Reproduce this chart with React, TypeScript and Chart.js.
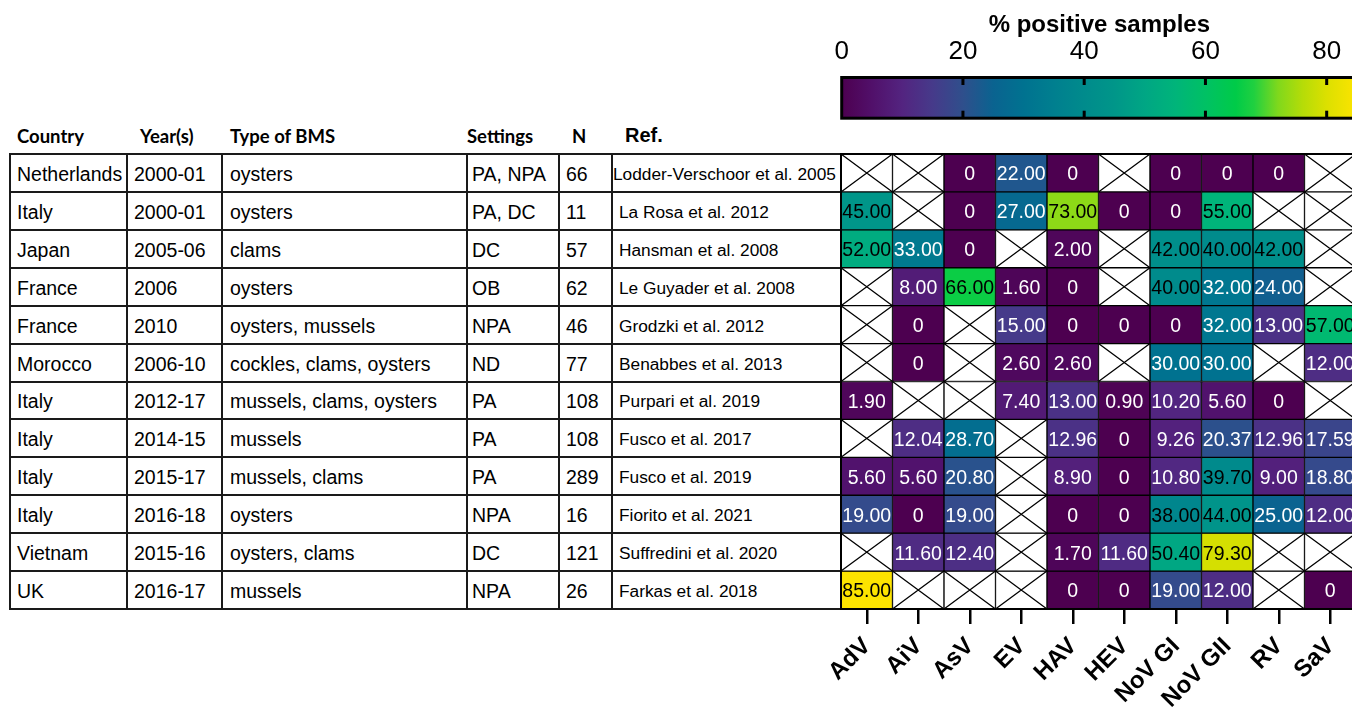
import React, { useEffect, useRef } from 'react';
import { Chart, registerables } from 'chart.js';

Chart.register(...registerables);

// ---------------- data ----------------
const viruses = ['AdV', 'AiV', 'AsV', 'EV', 'HAV', 'HEV', 'NoV GI', 'NoV GII', 'RV', 'SaV'];

const headers = ['Country', 'Year(s)', 'Type of BMS', 'Settings', 'N', 'Ref.'];
const countries = ['Netherlands', 'Italy', 'Japan', 'France', 'France', 'Morocco', 'Italy', 'Italy', 'Italy', 'Italy', 'Vietnam', 'UK'];
const years = ['2000-01', '2000-01', '2005-06', '2006', '2010', '2006-10', '2012-17', '2014-15', '2015-17', '2016-18', '2015-16', '2016-17'];
const bmsTypes = ['oysters', 'oysters', 'clams', 'oysters', 'oysters, mussels', 'cockles, clams, oysters', 'mussels, clams, oysters', 'mussels', 'mussels, clams', 'oysters', 'oysters, clams', 'mussels'];
const settings = ['PA, NPA', 'PA, DC', 'DC', 'OB', 'NPA', 'ND', 'PA', 'PA', 'PA', 'NPA', 'DC', 'NPA'];
const sampleSizes = ['66', '11', '57', '62', '46', '77', '108', '108', '289', '16', '121', '26'];
const references = ['Lodder-Verschoor et al. 2005', 'La Rosa et al. 2012', 'Hansman et al. 2008', 'Le Guyader et al. 2008', 'Grodzki et al. 2012', 'Benabbes et al. 2013', 'Purpari et al. 2019', 'Fusco et al. 2017', 'Fusco et al. 2019', 'Fiorito et al. 2021', 'Suffredini et al. 2020', 'Farkas et al. 2018'];

// % positive samples per virus (null = not tested, drawn as a crossed cell)
const X = null;
const rowNetherlands2005 = [X, X, 0, 22.0, 0, X, 0, 0, 0, X];
const rowItaly2012 = [45.0, X, 0, 27.0, 73.0, 0, 0, 55.0, X, X];
const rowJapan2008 = [52.0, 33.0, 0, X, 2.0, X, 42.0, 40.0, 42.0, X];
const rowFrance2008 = [X, 8.0, 66.0, 1.6, 0, X, 40.0, 32.0, 24.0, X];
const rowFrance2012 = [X, 0, X, 15.0, 0, 0, 0, 32.0, 13.0, 57.0];
const rowMorocco2013 = [X, 0, X, 2.6, 2.6, X, 30.0, 30.0, X, 12.0];
const rowItaly2019a = [1.9, X, X, 7.4, 13.0, 0.9, 10.2, 5.6, 0, X];
const rowItaly2017 = [X, 12.04, 28.7, X, 12.96, 0, 9.26, 20.37, 12.96, 17.59];
const rowItaly2019b = [5.6, 5.6, 20.8, X, 8.9, 0, 10.8, 39.7, 9.0, 18.8];
const rowItaly2021 = [19.0, 0, 19.0, X, 0, 0, 38.0, 44.0, 25.0, 12.0];
const rowVietnam2020 = [X, 11.6, 12.4, X, 1.7, 11.6, 50.4, 79.3, X, X];
const rowUK2018 = [85.0, X, X, X, 0, 0, 19.0, 12.0, X, 0];

const valueRows: (number | null)[][] = [
  rowNetherlands2005, rowItaly2012, rowJapan2008, rowFrance2008, rowFrance2012, rowMorocco2013,
  rowItaly2019a, rowItaly2017, rowItaly2019b, rowItaly2021, rowVietnam2020, rowUK2018,
];

const colorbarTicks = [0, 20, 40, 60, 80];
const colorbarMax = 85;

// ---------------- styling ----------------
const colorStops: [number, string][] = [
  [0, '#4d0050'], [5, '#51106a'], [10, '#532480'], [15, '#463a8a'], [20, '#2f4f8c'],
  [25, '#0a6390'], [30, '#007290'], [35, '#007f8f'], [40, '#008b8c'], [45, '#009689'],
  [50, '#00a684'], [55, '#00b47a'], [60, '#00c164'], [65, '#00cb48'], [68, '#20d040'],
  [72, '#80d81c'], [76, '#b5dc08'], [80, '#dce000'], [85, '#fde400'],
];

function hexToRgb(h: string) {
  const n = parseInt(h.slice(1), 16);
  return [(n >> 16) & 255, (n >> 8) & 255, n & 255];
}
function colorFor(v: number) {
  for (let i = 1; i < colorStops.length; i++) {
    const [v1, c1] = colorStops[i];
    const [v0, c0] = colorStops[i - 1];
    if (v <= v1) {
      const t = (v - v0) / (v1 - v0);
      const a = hexToRgb(c0), b = hexToRgb(c1);
      const m = a.map((x, k) => Math.round(x + (b[k] - x) * t));
      return `rgb(${m[0]},${m[1]},${m[2]})`;
    }
  }
  return colorStops[colorStops.length - 1][1];
}
const fmt = (v: number) => (v === 0 ? '0' : v.toFixed(2));

const ARIAL = '"Liberation Sans", Arial, Helvetica, sans-serif';
const ROW_TOP = 154;
const ROW_BOTTOM = 609;
const NROWS = valueRows.length;
const ROW_H = (ROW_BOTTOM - ROW_TOP) / NROWS;
const colEdges = [10, 127, 222, 467, 559, 612, 841];
const colPad = [7, 7, 8, 5, 7, 7];
const headerX = [17, 140, 230, 467, 572, 625];

const heatmapPlugin = {
  id: 'heatCells',
  afterDatasetsDraw(chart: any) {
    const ctx = chart.ctx;
    ctx.save();
    valueRows.forEach((row, r) => {
      const meta = chart.getDatasetMeta(r);
      meta.data.forEach((bar: any, c: number) => {
        const p = bar.getProps(['x', 'y', 'base', 'width'], true);
        const left = p.x - p.width / 2;
        const right = p.x + p.width / 2;
        const top = Math.min(p.y, p.base);
        const bottom = Math.max(p.y, p.base);
        const v = row[c];
        if (v === null) {
          ctx.strokeStyle = '#000';
          ctx.lineWidth = 1.3;
          ctx.beginPath();
          ctx.moveTo(left, top);
          ctx.lineTo(right, bottom);
          ctx.moveTo(left, bottom);
          ctx.lineTo(right, top);
          ctx.stroke();
        } else {
          ctx.fillStyle = v >= 35 ? '#000' : '#fff';
          ctx.font = `19.5px ${ARIAL}`;
          ctx.textAlign = 'center';
          ctx.textBaseline = 'middle';
          ctx.fillText(fmt(v), p.x, (top + bottom) / 2 + 2);
        }
      });
    });
    const a = chart.chartArea;
    ctx.strokeStyle = '#000';
    ctx.lineWidth = 2;
    ctx.strokeRect(a.left, a.top, a.right - a.left, a.bottom - a.top);

    // rotated category labels, placed from the category scale's tick pixels
    const sx = chart.scales.x;
    ctx.fillStyle = '#000';
    ctx.font = `bold 24px ${ARIAL}`;
    ctx.textAlign = 'right';
    ctx.textBaseline = 'alphabetic';
    sx.ticks.forEach((_: any, i: number) => {
      const x = sx.getPixelForTick(i) + 5;
      const y = a.bottom + 38;
      ctx.save();
      ctx.translate(x, y);
      ctx.rotate(-Math.PI / 4);
      ctx.fillText(String(sx.getLabelForValue(i)), 0, 0);
      ctx.restore();
    });
    ctx.restore();
  },
};

const colorbarPlugin = {
  id: 'colorbarFrame',
  afterDatasetsDraw(chart: any) {
    const ctx = chart.ctx;
    const a = chart.chartArea;
    const sx = chart.scales.x;
    ctx.save();
    ctx.fillStyle = '#000';
    colorbarTicks.slice(1).forEach((t) => {
      const x = sx.getPixelForValue(t);
      ctx.fillRect(x - 1.5, a.top, 3, 7.5);
      ctx.fillRect(x - 1.5, a.bottom - 7.5, 3, 7.5);
    });
    ctx.strokeStyle = '#000';
    ctx.lineWidth = 3;
    ctx.strokeRect(a.left, a.top, a.right - a.left, a.bottom - a.top);
    ctx.restore();
  },
};

export default function App() {
  const heatRef = useRef<HTMLCanvasElement>(null);
  const barRef = useRef<HTMLCanvasElement>(null);

  useEffect(() => {
    const heat = new Chart(heatRef.current as HTMLCanvasElement, {
      type: 'bar',
      data: {
        labels: viruses,
        datasets: valueRows.map((row, r) => ({
          label: countries[r],
          data: viruses.map(() => [r, r + 1]) as any,
          backgroundColor: row.map((v) => (v === null ? '#ffffff' : colorFor(v))),
          borderColor: '#000',
          borderWidth: 1,
          borderSkipped: false,
          barPercentage: 1,
          categoryPercentage: 1,
          grouped: false,
        })),
      },
      options: {
        responsive: false,
        animation: false,
        events: [],
        layout: { padding: { left: 41, right: 1, top: 14, bottom: 0 } },
        plugins: { legend: { display: false }, tooltip: { enabled: false } },
        scales: {
          x: {
            type: 'category',
            position: 'bottom',
            afterFit: (s: any) => {
              s.height = 99;
            },
            grid: {
              display: true,
              offset: false,
              drawOnChartArea: false,
              drawTicks: true,
              tickLength: 15,
              lineWidth: 2.5,
              color: '#000',
            },
            border: { display: false },
            ticks: { display: false, autoSkip: false },
          },
          y: { type: 'linear', display: false, reverse: true, min: 0, max: NROWS },
        },
      } as any,
      plugins: [heatmapPlugin],
    });

    const bar = new Chart(barRef.current as HTMLCanvasElement, {
      type: 'bar',
      data: {
        labels: ['cb'],
        datasets: [
          {
            data: [[0, colorbarMax]] as any,
            borderWidth: 0,
            barPercentage: 1,
            categoryPercentage: 1,
            backgroundColor: (c: any) => {
              const chart = c.chart;
              const sx = chart.scales.x;
              if (!sx || !chart.chartArea) return '#4d0050';
              const x0 = sx.getPixelForValue(0);
              const x1 = sx.getPixelForValue(colorbarMax);
              if (!isFinite(x0) || !isFinite(x1) || x1 === x0) return '#4d0050';
              const g = chart.ctx.createLinearGradient(x0, 0, x1, 0);
              colorStops.forEach(([v, col]) => g.addColorStop(v / colorbarMax, col));
              return g;
            },
          },
        ],
      },
      options: {
        responsive: false,
        animation: false,
        events: [],
        indexAxis: 'y',
        layout: { padding: { left: 41.7, right: 0, top: 0, bottom: 1.8 } },
        plugins: { legend: { display: false }, tooltip: { enabled: false } },
        scales: {
          x: {
            type: 'linear',
            position: 'top',
            min: 0,
            max: colorbarMax,
            afterBuildTicks: (s: any) => {
              s.ticks = colorbarTicks.map((t) => ({ value: t }));
            },
            afterFit: (s: any) => {
              s.height = 77.5;
            },
            grid: { display: false },
            border: { display: false },
            ticks: {
              padding: 2.5,
              color: '#000',
              font: { family: ARIAL, size: 26 },
            },
            title: {
              display: true,
              text: '% positive samples',
              color: '#000',
              font: { family: ARIAL, size: 24, weight: 'bold' },
              padding: { top: 10.5, bottom: 0 },
            },
          },
          y: { type: 'category', display: false },
        },
      } as any,
      plugins: [colorbarPlugin],
    });

    return () => {
      heat.destroy();
      bar.destroy();
    };
  }, []);

  const cellStyle = (left: number, top: number, width: number, size: number): React.CSSProperties => ({
    position: 'absolute',
    left,
    top,
    width,
    height: ROW_H,
    display: 'flex',
    alignItems: 'center',
    fontFamily: ARIAL,
    fontSize: size,
    color: '#000',
    whiteSpace: 'nowrap',
  });

  const columns = [countries, years, bmsTypes, settings, sampleSizes, references];

  return (
    <div
      style={{
        position: 'fixed',
        left: 0,
        top: 0,
        width: 1352,
        height: 708,
        overflow: 'hidden',
        background: '#fff',
      }}
    >
      {headers.map((h, i) => (
        <div
          key={h}
          style={{
            position: 'absolute',
            left: headerX[i],
            top: i === 5 ? 125 : 126.5,
            lineHeight: 1,
            fontFamily: i === 5 ? ARIAL : 'Lato, "Open Sans", sans-serif',
            fontWeight: 700,
            fontSize: i === 5 ? 20 : 18.5,
            color: '#000',
            whiteSpace: 'nowrap',
          }}
        >
          {h}
        </div>
      ))}

      {/* table grid lines */}
      {Array.from({ length: NROWS + 1 }, (_, i) => (
        <div
          key={'h' + i}
          style={{
            position: 'absolute',
            left: colEdges[0] - 1,
            top: Math.round(ROW_TOP + i * ROW_H) - 1,
            width: colEdges[colEdges.length - 1] - colEdges[0] + 1,
            height: 2,
            background: '#1a1a1a',
          }}
        />
      ))}
      {colEdges.slice(0, -1).map((x, i) => (
        <div
          key={'v' + i}
          style={{
            position: 'absolute',
            left: x - 1,
            top: ROW_TOP - 1,
            width: 2,
            height: ROW_BOTTOM - ROW_TOP + 2,
            background: '#1a1a1a',
          }}
        />
      ))}

      {/* table text */}
      {columns.map((col, ci) =>
        col.map((txt, r) => {
          const isRef = ci === 5;
          const pad = isRef && txt.length > 25 ? 1 : colPad[ci];
          return (
            <div
              key={ci + '-' + r}
              style={cellStyle(colEdges[ci] + pad, ROW_TOP + r * ROW_H + 1.5, colEdges[ci + 1] - colEdges[ci] - pad, isRef ? 17.3 : 19.5)}
            >
              {txt}
            </div>
          );
        })
      )}

      <canvas
        ref={barRef}
        width={557}
        height={120}
        style={{ position: 'absolute', left: 800, top: 0, width: 557, height: 120 }}
      />
      <canvas
        ref={heatRef}
        width={557}
        height={568}
        style={{ position: 'absolute', left: 800, top: 140, width: 557, height: 568 }}
      />
    </div>
  );
}
